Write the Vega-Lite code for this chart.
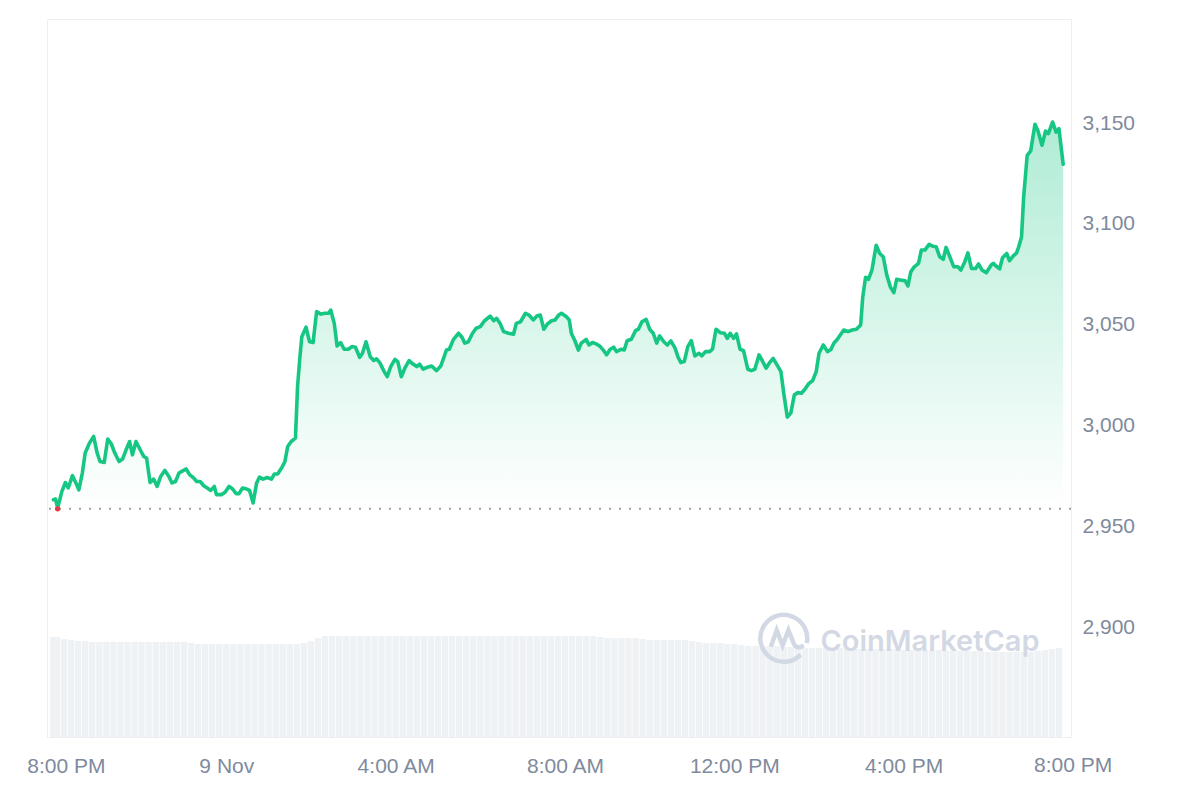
{
  "$schema": "https://vega.github.io/schema/vega-lite/v6.json",
  "width": 1024,
  "height": 718,
  "autosize": {"type": "none"},
  "padding": {"left": 47, "top": 19, "right": 129, "bottom": 63},
  "background": "white",
  "config": {
    "view": {"stroke": "#eceef1", "strokeWidth": 1},
    "axis": {"labelFont": "Liberation Sans", "labelFontSize": 21, "labelColor": "#808a9d", "ticks": false, "domain": false, "title": null},
    "axisX": {"grid": false, "labelPadding": 18, "labelFlush": false, "labelOverlap": false},
    "axisY": {"gridColor": "#eef0f3", "gridWidth": 1, "labelPadding": 11, "labelAlign": "left", "labelBaseline": "middle"}
  },
  "datasets": {
    "price": [
      {"m":-5,"p":2963.5},{"m":-2,"p":2963.8},{"m":1,"p":2959.4},{"m":7,"p":2967.6},{"m":12,"p":2972.0},{"m":16,"p":2969.3},{"m":22,"p":2975.4},{"m":28,"p":2970.9},{"m":31,"p":2968.4},{"m":36,"p":2976.7},{"m":40,"p":2986.6},{"m":46,"p":2991.5},{"m":52,"p":2994.8},{"m":57,"p":2986.6},{"m":61,"p":2982.4},{"m":67,"p":2981.9},{"m":72,"p":2993.5},{"m":77,"p":2991.2},{"m":82,"p":2986.6},{"m":88,"p":2982.4},{"m":93,"p":2983.6},{"m":98,"p":2988.2},{"m":103,"p":2992.3},{"m":107,"p":2985.7},{"m":112,"p":2992.3},{"m":118,"p":2988.2},{"m":123,"p":2984.9},{"m":127,"p":2984.1},{"m":132,"p":2972.0},{"m":137,"p":2973.7},{"m":142,"p":2970.1},{"m":147,"p":2975.0},{"m":153,"p":2978.0},{"m":159,"p":2974.7},{"m":163,"p":2971.8},{"m":168,"p":2972.5},{"m":173,"p":2976.7},{"m":177,"p":2977.5},{"m":183,"p":2978.7},{"m":188,"p":2975.9},{"m":194,"p":2974.2},{"m":198,"p":2972.5},{"m":203,"p":2972.5},{"m":208,"p":2970.4},{"m":213,"p":2969.3},{"m":218,"p":2968.1},{"m":223,"p":2970.1},{"m":226,"p":2966.0},{"m":233,"p":2966.0},{"m":238,"p":2967.1},{"m":244,"p":2970.1},{"m":249,"p":2968.8},{"m":254,"p":2966.5},{"m":258,"p":2966.5},{"m":263,"p":2969.3},{"m":268,"p":2968.9},{"m":273,"p":2968.1},{"m":278,"p":2961.9},{"m":283,"p":2971.8},{"m":287,"p":2974.7},{"m":292,"p":2973.7},{"m":298,"p":2974.5},{"m":304,"p":2973.7},{"m":308,"p":2976.2},{"m":313,"p":2976.3},{"m":319,"p":2979.6},{"m":323,"p":2982.3},{"m":327,"p":2989.8},{"m":332,"p":2992.3},{"m":338,"p":2994.0},{"m":341,"p":3019.5},{"m":344,"p":3032.7},{"m":347,"p":3044.2},{"m":353,"p":3048.9},{"m":358,"p":3041.7},{"m":363,"p":3041.3},{"m":368,"p":3056.6},{"m":374,"p":3055.4},{"m":380,"p":3055.8},{"m":385,"p":3055.8},{"m":388,"p":3057.4},{"m":393,"p":3050.8},{"m":397,"p":3039.6},{"m":402,"p":3041.3},{"m":407,"p":3038.0},{"m":413,"p":3038.0},{"m":418,"p":3039.3},{"m":423,"p":3039.0},{"m":429,"p":3034.0},{"m":433,"p":3036.0},{"m":438,"p":3041.7},{"m":444,"p":3034.3},{"m":449,"p":3032.4},{"m":453,"p":3033.2},{"m":458,"p":3031.1},{"m":463,"p":3027.4},{"m":468,"p":3024.4},{"m":473,"p":3029.4},{"m":479,"p":3033.0},{"m":483,"p":3031.9},{"m":488,"p":3024.4},{"m":493,"p":3028.6},{"m":499,"p":3032.4},{"m":503,"p":3031.1},{"m":510,"p":3029.4},{"m":514,"p":3030.6},{"m":519,"p":3028.1},{"m":525,"p":3029.1},{"m":531,"p":3029.7},{"m":538,"p":3027.4},{"m":544,"p":3029.7},{"m":552,"p":3037.6},{"m":556,"p":3038.0},{"m":562,"p":3042.9},{"m":569,"p":3045.9},{"m":574,"p":3043.9},{"m":578,"p":3041.0},{"m":583,"p":3041.7},{"m":589,"p":3045.9},{"m":594,"p":3048.4},{"m":600,"p":3049.2},{"m":606,"p":3052.1},{"m":614,"p":3054.4},{"m":619,"p":3052.1},{"m":623,"p":3053.3},{"m":628,"p":3050.8},{"m":633,"p":3046.7},{"m":640,"p":3045.9},{"m":647,"p":3045.4},{"m":651,"p":3050.8},{"m":657,"p":3051.6},{"m":664,"p":3055.8},{"m":669,"p":3054.9},{"m":675,"p":3052.5},{"m":680,"p":3054.4},{"m":685,"p":3054.9},{"m":690,"p":3047.9},{"m":695,"p":3050.5},{"m":701,"p":3052.1},{"m":706,"p":3052.5},{"m":711,"p":3054.9},{"m":715,"p":3055.8},{"m":722,"p":3054.1},{"m":726,"p":3052.5},{"m":729,"p":3045.9},{"m":734,"p":3042.2},{"m":739,"p":3037.6},{"m":743,"p":3041.0},{"m":750,"p":3042.9},{"m":754,"p":3040.1},{"m":759,"p":3041.3},{"m":765,"p":3040.5},{"m":770,"p":3039.3},{"m":775,"p":3037.3},{"m":779,"p":3035.2},{"m":784,"p":3038.0},{"m":789,"p":3039.0},{"m":793,"p":3036.8},{"m":800,"p":3038.0},{"m":804,"p":3037.6},{"m":808,"p":3042.2},{"m":814,"p":3042.9},{"m":820,"p":3047.2},{"m":824,"p":3047.9},{"m":829,"p":3051.6},{"m":835,"p":3052.8},{"m":840,"p":3047.9},{"m":845,"p":3045.9},{"m":850,"p":3041.0},{"m":854,"p":3044.6},{"m":860,"p":3041.7},{"m":865,"p":3040.1},{"m":870,"p":3042.1},{"m":876,"p":3038.5},{"m":880,"p":3034.3},{"m":884,"p":3031.4},{"m":889,"p":3031.9},{"m":894,"p":3039.3},{"m":899,"p":3042.2},{"m":904,"p":3034.7},{"m":910,"p":3036.0},{"m":914,"p":3034.7},{"m":919,"p":3036.8},{"m":925,"p":3036.8},{"m":929,"p":3038.0},{"m":934,"p":3047.9},{"m":940,"p":3046.2},{"m":946,"p":3045.9},{"m":950,"p":3043.4},{"m":954,"p":3045.9},{"m":959,"p":3043.4},{"m":963,"p":3045.6},{"m":968,"p":3038.0},{"m":973,"p":3037.3},{"m":979,"p":3028.1},{"m":984,"p":3027.4},{"m":989,"p":3028.1},{"m":995,"p":3035.2},{"m":999,"p":3032.7},{"m":1005,"p":3028.6},{"m":1010,"p":3031.4},{"m":1015,"p":3033.5},{"m":1019,"p":3031.1},{"m":1026,"p":3026.9},{"m":1030,"p":3016.2},{"m":1035,"p":3004.4},{"m":1040,"p":3006.4},{"m":1045,"p":3015.4},{"m":1050,"p":3016.5},{"m":1055,"p":3016.2},{"m":1060,"p":3018.2},{"m":1065,"p":3020.8},{"m":1071,"p":3022.5},{"m":1076,"p":3026.9},{"m":1080,"p":3036.0},{"m":1086,"p":3040.1},{"m":1092,"p":3036.8},{"m":1097,"p":3038.0},{"m":1101,"p":3041.0},{"m":1106,"p":3042.9},{"m":1115,"p":3047.5},{"m":1121,"p":3046.7},{"m":1127,"p":3047.5},{"m":1133,"p":3047.9},{"m":1139,"p":3050.0},{"m":1142,"p":3064.0},{"m":1146,"p":3073.6},{"m":1150,"p":3072.6},{"m":1155,"p":3077.2},{"m":1161,"p":3089.5},{"m":1166,"p":3085.4},{"m":1171,"p":3083.8},{"m":1176,"p":3074.7},{"m":1181,"p":3068.9},{"m":1186,"p":3066.0},{"m":1190,"p":3072.6},{"m":1196,"p":3072.2},{"m":1202,"p":3071.9},{"m":1206,"p":3069.3},{"m":1210,"p":3076.3},{"m":1215,"p":3078.8},{"m":1221,"p":3080.5},{"m":1225,"p":3087.1},{"m":1230,"p":3087.1},{"m":1236,"p":3089.9},{"m":1241,"p":3089.0},{"m":1246,"p":3088.7},{"m":1251,"p":3083.8},{"m":1256,"p":3082.5},{"m":1260,"p":3088.4},{"m":1265,"p":3084.1},{"m":1271,"p":3078.8},{"m":1277,"p":3078.8},{"m":1281,"p":3077.2},{"m":1286,"p":3080.8},{"m":1291,"p":3085.7},{"m":1296,"p":3078.0},{"m":1302,"p":3078.0},{"m":1306,"p":3080.2},{"m":1311,"p":3077.2},{"m":1317,"p":3075.9},{"m":1324,"p":3079.7},{"m":1327,"p":3080.5},{"m":1332,"p":3078.8},{"m":1336,"p":3077.8},{"m":1340,"p":3083.3},{"m":1346,"p":3085.4},{"m":1350,"p":3081.8},{"m":1355,"p":3084.1},{"m":1360,"p":3085.7},{"m":1363,"p":3088.7},{"m":1367,"p":3093.6},{"m":1370,"p":3113.4},{"m":1375,"p":3134.0},{"m":1380,"p":3136.2},{"m":1386,"p":3149.4},{"m":1390,"p":3146.4},{"m":1396,"p":3139.0},{"m":1401,"p":3146.0},{"m":1405,"p":3144.8},{"m":1411,"p":3150.5},{"m":1416,"p":3145.5},{"m":1420,"p":3147.2},{"m":1426,"p":3129.6}
    ],
    "volume": [
      {"m":-5,"v":100},{"m":0,"v":100},{"m":10,"v":98},{"m":20,"v":97},{"m":30,"v":96},{"m":40,"v":96},{"m":50,"v":95},{"m":60,"v":95},{"m":70,"v":95},{"m":80,"v":95},{"m":90,"v":95},{"m":100,"v":95},{"m":110,"v":95},{"m":120,"v":95},{"m":130,"v":95},{"m":140,"v":95},{"m":150,"v":95},{"m":160,"v":95},{"m":170,"v":95},{"m":180,"v":95},
      {"m":190,"v":94},{"m":200,"v":93},{"m":210,"v":93},{"m":220,"v":93},{"m":230,"v":93},{"m":240,"v":93},{"m":250,"v":93},{"m":260,"v":93},{"m":270,"v":93},{"m":280,"v":93},{"m":290,"v":93},{"m":300,"v":93},{"m":310,"v":93},{"m":320,"v":93},{"m":330,"v":93},{"m":340,"v":93},{"m":350,"v":94},
      {"m":360,"v":96},{"m":370,"v":99},{"m":380,"v":101},{"m":390,"v":101},{"m":400,"v":101},{"m":410,"v":101},{"m":420,"v":101},{"m":430,"v":101},{"m":440,"v":101},{"m":450,"v":101},{"m":460,"v":101},{"m":470,"v":101},{"m":480,"v":101},{"m":490,"v":101},{"m":500,"v":101},{"m":510,"v":101},{"m":520,"v":101},{"m":530,"v":101},{"m":540,"v":101},{"m":550,"v":101},{"m":560,"v":101},{"m":570,"v":101},{"m":580,"v":101},{"m":590,"v":101},{"m":600,"v":101},{"m":610,"v":101},{"m":620,"v":101},{"m":630,"v":101},{"m":640,"v":101},{"m":650,"v":101},{"m":660,"v":101},{"m":670,"v":101},{"m":680,"v":101},{"m":690,"v":101},{"m":700,"v":101},{"m":710,"v":101},{"m":720,"v":101},{"m":730,"v":101},{"m":740,"v":101},{"m":750,"v":101},{"m":760,"v":101},{"m":770,"v":100},
      {"m":780,"v":99},{"m":790,"v":99},{"m":800,"v":99},{"m":810,"v":99},{"m":820,"v":99},{"m":830,"v":98},{"m":840,"v":97},{"m":850,"v":97},{"m":860,"v":97},{"m":870,"v":97},{"m":880,"v":97},{"m":890,"v":97},{"m":900,"v":96},{"m":910,"v":95},
      {"m":920,"v":94},{"m":930,"v":94},{"m":940,"v":94},{"m":950,"v":93},{"m":960,"v":93},{"m":970,"v":92},{"m":980,"v":91},{"m":990,"v":91},{"m":1000,"v":91},{"m":1010,"v":91},{"m":1020,"v":91},{"m":1030,"v":90},{"m":1040,"v":90},{"m":1050,"v":90},{"m":1060,"v":89},
      {"m":1070,"v":89},{"m":1080,"v":89},{"m":1090,"v":89},{"m":1100,"v":89},{"m":1110,"v":89},{"m":1120,"v":89},{"m":1130,"v":88},{"m":1140,"v":88},{"m":1150,"v":88},{"m":1160,"v":88},{"m":1170,"v":88},{"m":1180,"v":88},{"m":1190,"v":88},{"m":1200,"v":87},
      {"m":1210,"v":87},{"m":1220,"v":87},{"m":1230,"v":87},{"m":1240,"v":87},{"m":1250,"v":87},{"m":1260,"v":86},{"m":1270,"v":86},{"m":1280,"v":86},{"m":1290,"v":86},{"m":1300,"v":86},{"m":1310,"v":86},{"m":1320,"v":85},{"m":1330,"v":85},{"m":1340,"v":85},{"m":1350,"v":85},{"m":1360,"v":85},{"m":1370,"v":85},{"m":1380,"v":85},{"m":1390,"v":86},{"m":1400,"v":87},{"m":1410,"v":88},{"m":1420,"v":89}
    ]
  },
  "layer": [
    {
      "data": {"name": "volume"},
      "mark": {"type": "bar", "size": 6.4, "color": "#eff2f5"},
      "encoding": {
        "x": {"field": "m", "type": "quantitative", "scale": {"domain": [-7, 1430], "nice": false, "zero": false},
          "axis": {
            "values": [0, 240, 480, 720, 960, 1200],
            "labelExpr": "datum.value == 0 ? '8:00 PM' : datum.value == 240 ? '9 Nov' : datum.value == 480 ? '4:00 AM' : datum.value == 720 ? '8:00 AM' : datum.value == 960 ? '12:00 PM' : '4:00 PM'",
            "labelOffset": {"condition": {"test": "datum.value == 0", "value": 9}, "value": 0}
          }},
        "y": {"field": "v", "type": "quantitative", "scale": {"domain": [0, 718], "nice": false}, "axis": null}
      }
    },
    {
      "data": {"name": "price"},
      "encoding": {
        "x": {"field": "m", "type": "quantitative", "scale": {"domain": [-7, 1430], "nice": false, "zero": false}},
        "y": {"field": "p", "type": "quantitative", "scale": {"domain": [2846, 3201.5], "nice": false, "zero": false},
          "axis": {"orient": "right", "values": [2900, 2950, 3000, 3050, 3100, 3150], "format": ",.0f"}}
      },
      "layer": [
        {
          "mark": {"type": "area", "interpolate": "linear",
            "color": {"gradient": "linear", "x1": 0, "y1": 0, "x2": 0, "y2": 1,
              "stops": [{"offset": 0, "color": "rgba(22,199,132,0.34)"}, {"offset": 1, "color": "rgba(22,199,132,0.0)"}]}},
          "encoding": {"y2": {"datum": 2959}}
        },
        {
          "data": {"values": [{"ref": 2959}]},
          "mark": {"type": "rule", "color": "#9a9ea6", "strokeWidth": 2, "strokeDash": [2, 8]},
          "encoding": {"x": null, "y": {"field": "ref", "type": "quantitative"}}
        },
        {
          "mark": {"type": "line", "color": "#16c784", "strokeWidth": 3.6, "interpolate": "linear", "strokeJoin": "round", "strokeCap": "round"}
        },
        {
          "data": {"values": [{"m": 1, "p": 2959}]},
          "mark": {"type": "point", "shape": "circle", "filled": true, "size": 28, "color": "#ea3943", "opacity": 1}
        },
        {
          "data": {"values": [{"m": 1030, "p": 2894.8}]},
          "mark": {"type": "point", "filled": false, "size": 2200, "strokeWidth": 4.5, "color": "#d3d9e4", "opacity": 1,
            "shape": "M 0.72 0.69 A 1 1 0 1 1 0.98 0.2 M -0.55 0.35 L -0.3 -0.35 L -0.05 0.3 L 0.2 -0.35 L 0.42 0.2 Q 0.55 0.5 0.85 0.3"}
        },
        {
          "data": {"values": [{"m": 1082, "p": 2888.5, "label": "CoinMarketCap"}]},
          "mark": {"type": "text", "align": "left", "baseline": "alphabetic", "font": "Inter", "fontSize": 29, "fontWeight": 600, "color": "#d3d9e4"},
          "encoding": {"text": {"field": "label"}}
        },
        {
          "data": {"values": [{"m": 1440, "p": 2846, "label": "8:00 PM"}]},
          "mark": {"type": "text", "align": "center", "baseline": "top", "dy": 18, "font": "Liberation Sans", "fontSize": 21, "color": "#808a9d"},
          "encoding": {"text": {"field": "label"}}
        }
      ]
    }
  ],
  "resolve": {"scale": {"y": "independent"}}
}
